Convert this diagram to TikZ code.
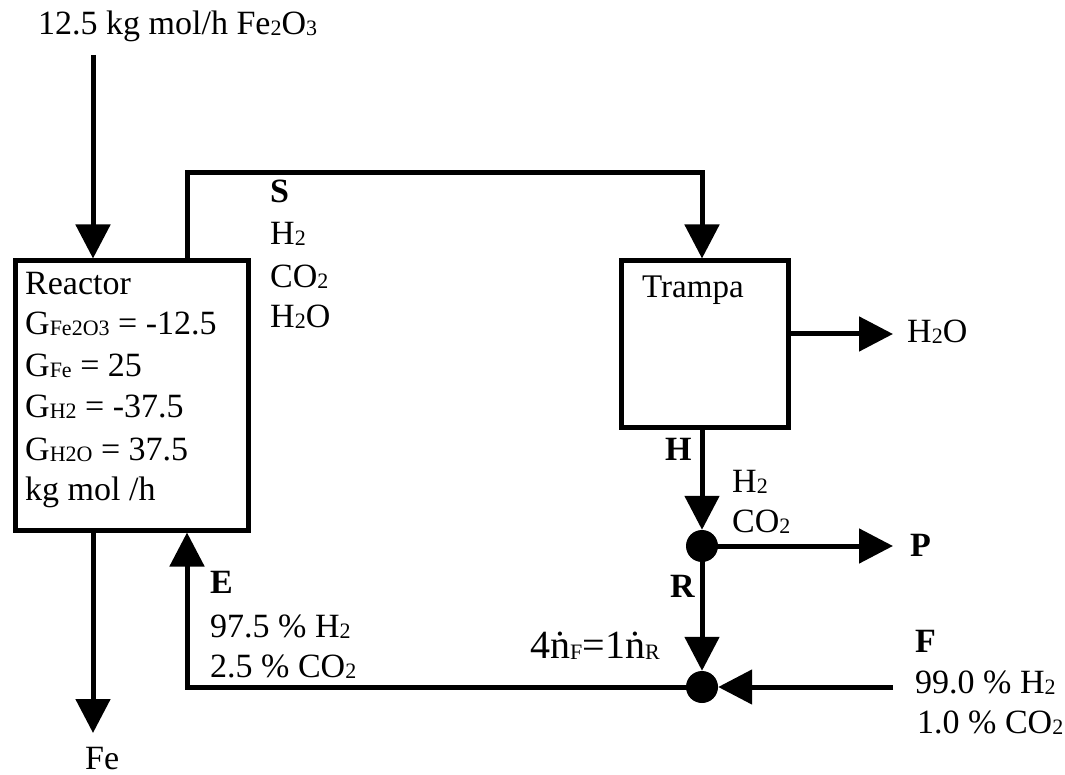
\documentclass[tikz,border=0pt]{standalone}
\usepackage{fontspec}
\setmainfont{Liberation Serif}
\usetikzlibrary{arrows.meta}
\newcommand{\chemsub}[1]{\raisebox{-1pt}{\fontsize{22}{22}\selectfont #1}}
\begin{document}
\begin{tikzpicture}[x=1pt,y=-1pt,
  every node/.style={font=\fontsize{34}{40}\selectfont},
  txt/.style={anchor=base west, inner sep=0pt},
  unitbox/.style={draw, line width=5pt, inner sep=0pt},
  flow/.style={line width=5pt, -{Triangle[length=34pt,width=34pt]}},
  mixer/.style={circle, fill=black, minimum size=32pt, inner sep=0pt}]
\useasboundingbox (0,0) rectangle (1065,775);
% units
\node[unitbox, minimum width=233pt, minimum height=269pt] (reactor) at (131.5,395.5) {};
\node[unitbox, minimum width=167pt, minimum height=166pt] (trampa) at (704.5,344) {};
\node[mixer] (m1) at (702,546) {};
\node[mixer] (m2) at (702,687) {};
% coordinates
\coordinate (in1) at (93,55);
\coordinate (feout) at (93,733);
\coordinate (sup1) at (187,173);
\coordinate (sup2) at (702,173);
\coordinate (wout) at (893,334);
\coordinate (pout) at (893,546);
\coordinate (fin) at (893,687);
\coordinate (ebot) at (187,687);
% connectors
\draw[flow] (in1) -- (in1 |- reactor.north);
\draw[flow] (in1 |- reactor.south) -- (feout);
\draw[flow] (sup1 |- reactor.north) -- (sup1) -- (sup2) -- (sup2 |- trampa.north);
\draw[flow] (trampa.east |- wout) -- (wout);
\draw[flow] (sup2 |- trampa.south) -- (m1.north);
\draw[flow] (m1.center) -- (pout);
\draw[flow] (m1.center) -- (m2.north);
\draw[flow] (fin) -- (m2.east);
\draw[flow] (m2.center) -- (ebot) -- (ebot |- reactor.south);
% texts
\node[txt] (t0) at (38,35) {12.5 kg mol/h Fe\chemsub{2}O\chemsub{3}};
\node[txt] (r1) at (25,295) {Reactor};
\node[txt] (r2) at (25,335) {G\chemsub{Fe2O3} = -12.5};
\node[txt] (r3) at (25,377) {G\chemsub{Fe} = 25};
\node[txt] (r4) at (25,417) {G\chemsub{H2} = -37.5};
\node[txt] (r5) at (25,460) {G\chemsub{H2O} = 37.5};
\node[txt] (r6) at (25,500) {kg mol /h};
\node[txt] (s0) at (270,203) {\textbf{S}};
\node[txt] (s1) at (270,245) {H\chemsub{2}};
\node[txt] (s2) at (270,288) {CO\chemsub{2}};
\node[txt] (s3) at (270,328) {H\chemsub{2}O};
\node[txt] (tt) at (642,298) {\fontsize{33}{38}\selectfont Trampa};
\node[txt] (w) at (907,343) {H\chemsub{2}O};
\node[txt] (h0) at (665,460) {\textbf{H}};
\node[txt] (h1) at (732,492) {H\chemsub{2}};
\node[txt] (h2) at (732,532) {CO\chemsub{2}};
\node[txt] (p0) at (910,556) {\textbf{P}};
\node[txt] (rr) at (670,597) {\textbf{R}};
\node[txt] (ratio) at (530,658) {\fontsize{40}{44}\selectfont 4ṅ\chemsub{F}=1ṅ\chemsub{R}};
\node[txt] (e0) at (210,593) {\textbf{E}};
\node[txt] (e1) at (210,637) {97.5 \% H\chemsub{2}};
\node[txt] (e2) at (210,677) {2.5 \% CO\chemsub{2}};
\node[txt] (f0) at (915,652) {\textbf{F}};
\node[txt] (f1) at (915,693) {99.0 \% H\chemsub{2}};
\node[txt] (f2) at (917,733) {1.0 \% CO\chemsub{2}};
\node[txt] (fe) at (85,769) {Fe};
\end{tikzpicture}
\end{document}
